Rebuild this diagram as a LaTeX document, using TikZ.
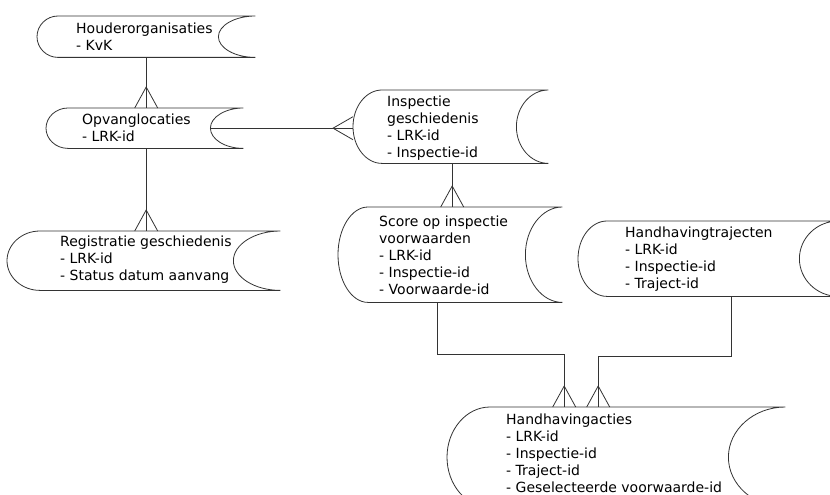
\documentclass[tikz,border=0pt]{standalone}
\usepackage{fontspec}
\newfontfamily\erdfont{DejaVu Sans}
\usetikzlibrary{calc}

\tikzset{
  erline/.style={draw=black!80, line width=0.8pt},
  entity/.style={rectangle, inner sep=0pt, anchor=north west},
  lbl/.style={font=\erdfont\fontsize{14}{17}\selectfont, align=left, anchor=west, inner sep=0pt},
  crowdown/.pic={\draw[erline] (-11.5,0) -- (0,-21) -- (11.5,0);},
  crowleft/.pic={\draw[erline] (0,-11.5) -- (-20,0) -- (0,11.5);}
}

% outline: round left end, hollow right end (name, left depth, right depth, half height)
\newcommand\storeshape[4]{%
  \coordinate (#1-l) at ($(#1.west)+(-#2,0)$);
  \coordinate (#1-r) at ($(#1.east)+(-#3,0)$);
  \draw[erline] (#1.north west) .. controls +(-0.552*#2,0) and +(0,-0.552*#4) .. (#1-l)
    .. controls +(0,0.552*#4) and +(-0.552*#2,0) .. (#1.south west)
    -- (#1.south east) .. controls +(-0.552*#3,0) and +(0,0.552*#4) .. (#1-r)
    .. controls +(0,-0.552*#4) and +(-0.552*#3,0) .. (#1.north east) -- cycle;
}

\begin{document}
\begin{tikzpicture}[x=1pt,y=-1pt]
\useasboundingbox (0,0) rectangle (830,495);
\fill[white] (0,0) rectangle (830,495);
\clip (0,0) rectangle (830,495);
% entities
\node[entity, minimum width=197pt, minimum height=41pt] (hou) at (58,16) {};
\node[entity, minimum width=175pt, minimum height=40pt] (opv) at (68,108) {};
\node[entity, minimum width=166pt, minimum height=73pt] (insp) at (382,90) {};
\node[entity, minimum width=240pt, minimum height=59pt] (reg) at (40,231) {};
\node[entity, minimum width=194pt, minimum height=95pt] (score) at (368,207) {};
\node[entity, minimum width=231pt, minimum height=75pt] (traj) at (607,221) {};
\node[entity, minimum width=295pt, minimum height=100pt] (acties) at (490,407) {};

\node[lbl] (hou-t) at (76,37) {Houderorganisaties\\- KvK};
\node[lbl] (opv-t) at (82,128) {Opvanglocaties\\- LRK-id};
\node[lbl] (insp-t) at (387,128) {Inspectie\\geschiedenis\\- LRK-id\\- Inspectie-id};
\node[lbl] (reg-t) at (60,260) {Registratie geschiedenis\\- LRK-id\\- Status datum aanvang};
\node[lbl] (score-t) at (379,255) {Score op inspectie\\voorwaarden\\- LRK-id\\- Inspectie-id\\- Voorwaarde-id};
\node[lbl] (traj-t) at (625,259) {Handhavingtrajecten\\- LRK-id\\- Inspectie-id\\- Traject-id};
\node[lbl] (acties-t) at (506,453) {Handhavingacties\\- LRK-id\\- Inspectie-id\\- Traject-id\\- Geselecteerde voorwaarde-id};

\storeshape{hou}{21}{37}{20.5}
\storeshape{opv}{22}{33}{20}
\storeshape{insp}{29}{32}{36.5}
\storeshape{reg}{33}{47}{29.5}
\storeshape{score}{30}{37}{47.5}
\storeshape{traj}{29}{39}{37.5}
\storeshape{acties}{43}{57}{50}

% relations
\draw[erline] ([xshift=-10.5pt]hou.south) -- ([xshift=-9.5pt]opv.north) pic {crowdown};
\draw[erline] ([xshift=-9.5pt]opv.south) -- ([xshift=-14pt]reg.north) pic {crowdown};
\draw[erline] (opv-r) -- (opv-r -| insp-l) pic {crowleft};
\draw[erline] ([xshift=-13pt]insp.south) -- ([xshift=-13pt]score.north) pic {crowdown};
\draw[erline] ([xshift=-28pt]score.south) -- ++(0,52) -| ([xshift=-73.5pt]acties.north) pic {crowdown};
\draw[erline] ([xshift=8.5pt]traj.south) -- ++(0,60) -| ([xshift=-39.5pt]acties.north) pic {crowdown};
\end{tikzpicture}
\end{document}
